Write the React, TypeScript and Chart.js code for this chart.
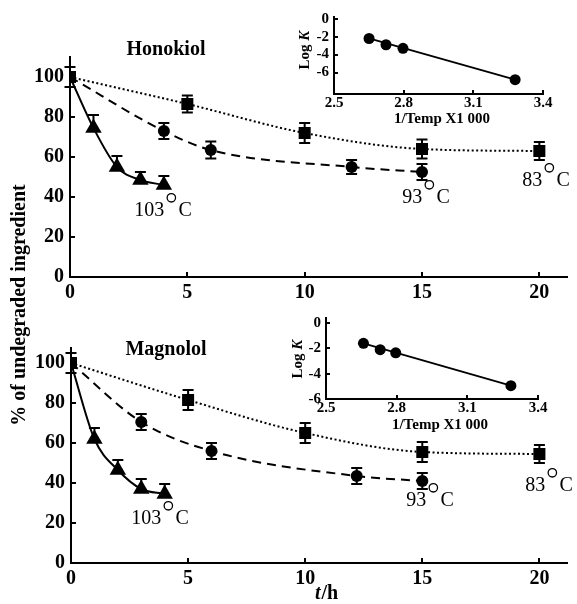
import React, { useEffect, useRef } from "react";
import { Chart, registerables } from "chart.js";

Chart.register(...registerables);

const SERIF = "'Liberation Serif', 'DejaVu Serif', serif";
const W = 577;
const H = 604;

// ---------- Honokiol (top panel) ----------
const hon83X = [0, 5, 10, 15, 20];
const hon83Y = [100, 86.5, 72, 64, 63];
const hon83E = [5, 4.3, 5, 4.7, 4.5];
const hon93X = [0, 4, 6, 12, 15];
const hon93Y = [100, 73, 63.5, 55, 52.5];
const hon93E = [0, 4, 4.2, 3.5, 4];
const hon103X = [0, 1, 2, 3, 4];
const hon103Y = [100, 74.5, 55, 48.5, 46];
const hon103E = [0, 6.5, 5.5, 4, 4.5];

// ---------- Magnolol (bottom panel) ----------
const mag83X = [0, 5, 10, 15, 20];
const mag83Y = [100, 81.5, 65, 55.5, 54.5];
const mag83E = [5, 5, 5, 5, 4.5];
const mag93X = [0, 3, 6, 12.2, 15];
const mag93Y = [100, 70.5, 56, 43.5, 41];
const mag93E = [0, 4, 4, 4, 4];
const mag103X = [0, 1, 2, 3, 4];
const mag103Y = [100, 62, 46.5, 37, 34.5];
const mag103E = [0, 5.5, 5, 5, 5];

// ---------- Arrhenius insets ----------
const honInvTemp = [2.651, 2.724, 2.797, 3.28];
const honLogK = [-2.2, -2.9, -3.3, -6.8];
const magInvTemp = [2.659, 2.73, 2.796, 3.285];
const magLogK = [-1.6, -2.1, -2.35, -4.95];

// ---------- ticks ----------
const timeTicks = [0, 5, 10, 15, 20];
const pctTicks = [0, 20, 40, 60, 80, 100];
const invTempTicks = [2.5, 2.8, 3.1, 3.4];
const logKTicks = [0, -2, -4, -6];

type Area = { left: number; right: number; top: number; bottom: number };
type Series = {
  xs: number[];
  ys: number[];
  errs: number[];
  style: string;
  radius: number;
  dash: number[];
  hideFirst?: boolean;
  upOnly?: boolean;
};

const toPts = (xs: number[], ys: number[]) => xs.map((x, i) => ({ x, y: ys[i] }));

function mainDatasets(series: Series[]) {
  return series.map((s) => ({
    data: toPts(s.xs, s.ys),
    showLine: true,
    borderColor: "#000",
    backgroundColor: "#000",
    borderWidth: 2,
    borderDash: s.dash,
    cubicInterpolationMode: "monotone",
    pointStyle: s.style,
    pointRadius: s.xs.map((_, i) => (i === 0 && s.hideFirst ? 0 : s.radius)),
    pointBorderWidth: 0,
    pointBackgroundColor: "#000",
    errs: s.errs,
    upOnly: !!s.upOnly,
  }));
}

const errorBars = {
  id: "errorBars",
  beforeDatasetsDraw(chart: any) {
    const ctx = chart.ctx;
    const xs = chart.scales.x;
    const ys = chart.scales.y;
    ctx.save();
    ctx.strokeStyle = "#000";
    ctx.lineWidth = 2;
    ctx.setLineDash([]);
    chart.data.datasets.forEach((ds: any) => {
      if (!ds.errs) return;
      ds.data.forEach((p: any, i: number) => {
        const e = ds.errs[i];
        if (!e) return;
        const px = xs.getPixelForValue(p.x);
        const top = ys.getPixelForValue(p.y + e);
        const bot = ds.upOnly ? ys.getPixelForValue(p.y) : ys.getPixelForValue(p.y - e);
        ctx.beginPath();
        ctx.moveTo(px, top);
        ctx.lineTo(px, bot);
        ctx.moveTo(px - 5.5, top);
        ctx.lineTo(px + 5.5, top);
        if (!ds.upOnly) {
          ctx.moveTo(px - 5.5, bot);
          ctx.lineTo(px + 5.5, bot);
        }
        ctx.stroke();
      });
    });
    ctx.restore();
  },
};

function inwardTicks(len: number) {
  return {
    id: "inwardTicks",
    afterDraw(chart: any) {
      const ctx = chart.ctx;
      const xs = chart.scales.x;
      const ys = chart.scales.y;
      ctx.save();
      ctx.strokeStyle = "#000";
      ctx.lineWidth = 2;
      ctx.beginPath();
      xs.ticks.forEach((t: any) => {
        const px = Math.round(xs.getPixelForValue(t.value));
        ctx.moveTo(px, ys.bottom);
        ctx.lineTo(px, ys.bottom - len);
      });
      ys.ticks.forEach((t: any) => {
        const py = Math.round(ys.getPixelForValue(t.value));
        ctx.moveTo(xs.left, py);
        ctx.lineTo(xs.left + len, py);
      });
      ctx.stroke();
      ctx.restore();
    },
  };
}

function degLabel(ctx: CanvasRenderingContext2D, num: string, cx: number, cy: number) {
  const size = 20;
  ctx.save();
  ctx.fillStyle = "#000";
  ctx.strokeStyle = "#000";
  ctx.font = `${size}px ${SERIF}`;
  ctx.textBaseline = "middle";
  ctx.textAlign = "left";
  const wNum = ctx.measureText(num).width;
  const wC = ctx.measureText("C").width;
  const gap = size * 0.72;
  const x0 = cx - (wNum + gap + wC) / 2;
  ctx.fillText(num, x0, cy);
  ctx.beginPath();
  ctx.lineWidth = 1.3;
  ctx.arc(x0 + wNum + gap * 0.5, cy - size * 0.66, size * 0.21, 0, Math.PI * 2);
  ctx.stroke();
  ctx.fillText("C", x0 + wNum + gap, cy);
  ctx.restore();
}

function textPlugin(draw: (ctx: CanvasRenderingContext2D, chart: any) => void) {
  return {
    id: "texts",
    afterDraw(chart: any) {
      const ctx = chart.ctx;
      ctx.save();
      draw(ctx, chart);
      ctx.restore();
    },
  };
}

function mainChart(
  canvas: HTMLCanvasElement,
  series: Series[],
  area: Area,
  yMax: number,
  draw: (ctx: CanvasRenderingContext2D, chart: any) => void
) {
  const yW = 60;
  const xH = 30;
  return new Chart(canvas, {
    type: "scatter",
    data: { datasets: mainDatasets(series) as any },
    options: {
      responsive: false,
      animation: false,
      events: [],
      layout: {
        padding: { left: area.left - yW, right: W - area.right, top: area.top, bottom: H - area.bottom - xH },
      },
      plugins: { legend: { display: false }, tooltip: { enabled: false } },
      scales: {
        x: {
          type: "linear",
          min: 0,
          max: 21.2,
          afterBuildTicks: (s: any) => {
            s.ticks = timeTicks.map((v) => ({ value: v }));
          },
          afterFit: (s: any) => {
            s.height = xH;
          },
          grid: { display: false, drawTicks: false },
          border: { display: true, color: "#000", width: 2 },
          ticks: { color: "#000", padding: 4, font: { family: SERIF, size: 20, weight: "bold" }, maxRotation: 0 },
        },
        y: {
          type: "linear",
          min: 0,
          max: yMax,
          afterBuildTicks: (s: any) => {
            s.ticks = pctTicks.map((v) => ({ value: v }));
          },
          afterFit: (s: any) => {
            s.width = yW;
          },
          grid: { display: false, drawTicks: false },
          border: { display: true, color: "#000", width: 2 },
          ticks: { color: "#000", padding: 6, font: { family: SERIF, size: 20, weight: "bold" } },
        },
      },
    } as any,
    plugins: [errorBars, inwardTicks(5), textPlugin(draw)],
  });
}

function insetChart(
  canvas: HTMLCanvasElement,
  xs: number[],
  ys: number[],
  area: Area,
  yMin: number,
  yMax: number,
  draw: (ctx: CanvasRenderingContext2D, chart: any) => void
) {
  const yW = 30;
  const xH = 22;
  const n = xs.length - 1;
  return new Chart(canvas, {
    type: "scatter",
    data: {
      datasets: [
        {
          data: toPts(xs, ys),
          showLine: false,
          pointStyle: "circle",
          pointRadius: 5.5,
          pointBorderWidth: 0,
          pointBackgroundColor: "#000",
          backgroundColor: "#000",
        },
        {
          data: [
            { x: xs[0], y: ys[0] },
            { x: xs[n], y: ys[n] },
          ],
          showLine: true,
          borderColor: "#000",
          borderWidth: 1.8,
          pointRadius: 0,
        },
      ] as any,
    },
    options: {
      responsive: false,
      animation: false,
      events: [],
      layout: {
        padding: { left: area.left - yW, right: W - area.right, top: area.top, bottom: H - area.bottom - xH },
      },
      plugins: { legend: { display: false }, tooltip: { enabled: false } },
      scales: {
        x: {
          type: "linear",
          min: 2.5,
          max: 3.4,
          afterBuildTicks: (s: any) => {
            s.ticks = invTempTicks.map((v) => ({ value: v }));
          },
          afterFit: (s: any) => {
            s.height = xH;
          },
          grid: { display: false, drawTicks: false },
          border: { display: true, color: "#000", width: 2 },
          ticks: {
            color: "#000",
            padding: 0,
            maxRotation: 0,
            font: { family: SERIF, size: 15, weight: "bold" },
            callback: (v: any) => Number(v).toFixed(1),
          },
        },
        y: {
          type: "linear",
          min: yMin,
          max: yMax,
          afterBuildTicks: (s: any) => {
            s.ticks = logKTicks.filter((v) => v >= yMin).map((v) => ({ value: v }));
          },
          afterFit: (s: any) => {
            s.width = yW;
          },
          grid: { display: false, drawTicks: false },
          border: { display: true, color: "#000", width: 2 },
          ticks: { color: "#000", padding: 5, font: { family: SERIF, size: 15, weight: "bold" } },
        },
      },
    } as any,
    plugins: [inwardTicks(4), textPlugin(draw)],
  });
}

function drawLogK(ctx: CanvasRenderingContext2D, cx: number, cy: number) {
  ctx.save();
  ctx.translate(cx, cy);
  ctx.rotate(-Math.PI / 2);
  ctx.fillStyle = "#000";
  ctx.textBaseline = "middle";
  ctx.textAlign = "left";
  ctx.font = `bold 15px ${SERIF}`;
  const a = "Log ";
  const wa = ctx.measureText(a).width;
  ctx.font = `italic bold 15px ${SERIF}`;
  const wb = ctx.measureText("K").width;
  const x0 = -(wa + wb) / 2;
  ctx.font = `bold 15px ${SERIF}`;
  ctx.fillText(a, x0, 0);
  ctx.font = `italic bold 15px ${SERIF}`;
  ctx.fillText("K", x0 + wa, 0);
  ctx.restore();
}

function centerText(ctx: CanvasRenderingContext2D, text: string, x: number, y: number, font: string) {
  ctx.font = font;
  ctx.fillStyle = "#000";
  ctx.textAlign = "center";
  ctx.textBaseline = "middle";
  ctx.fillText(text, x, y);
}

export default function App() {
  const c1 = useRef<HTMLCanvasElement>(null);
  const c2 = useRef<HTMLCanvasElement>(null);
  const c3 = useRef<HTMLCanvasElement>(null);
  const c4 = useRef<HTMLCanvasElement>(null);

  useEffect(() => {
    const charts: Chart[] = [];
    const dotted = [2, 2.5];
    const dashed = [9, 6];

    charts.push(
      mainChart(
        c1.current!,
        [
          { xs: hon103X, ys: hon103Y, errs: hon103E, style: "triangle", radius: 9.5, dash: [], hideFirst: true, upOnly: true },
          { xs: hon93X, ys: hon93Y, errs: hon93E, style: "circle", radius: 6, dash: dashed, hideFirst: true },
          { xs: hon83X, ys: hon83Y, errs: hon83E, style: "rect", radius: 8.5, dash: dotted },
        ],
        { left: 70, right: 577, top: 57, bottom: 277 },
        110,
        (ctx) => {
          centerText(ctx, "Honokiol", 166, 50, `bold 20px ${SERIF}`);
          degLabel(ctx, "103", 163, 211);
          degLabel(ctx, "93", 426, 198);
          degLabel(ctx, "83", 546, 181);
          // shared y-axis title
          ctx.save();
          ctx.translate(20, 305);
          ctx.rotate(-Math.PI / 2);
          centerText(ctx, "% of undegraded ingredient", 0, 0, `bold 20px ${SERIF}`);
          ctx.restore();
        }
      )
    );

    charts.push(
      mainChart(
        c2.current!,
        [
          { xs: mag103X, ys: mag103Y, errs: mag103E, style: "triangle", radius: 9.5, dash: [], hideFirst: true, upOnly: true },
          { xs: mag93X, ys: mag93Y, errs: mag93E, style: "circle", radius: 6, dash: dashed, hideFirst: true },
          { xs: mag83X, ys: mag83Y, errs: mag83E, style: "rect", radius: 8.5, dash: dotted },
        ],
        { left: 71, right: 577, top: 348, bottom: 563 },
        107.5,
        (ctx) => {
          centerText(ctx, "Magnolol", 166, 350, `bold 20px ${SERIF}`);
          degLabel(ctx, "103", 160, 519);
          degLabel(ctx, "93", 430, 501);
          degLabel(ctx, "83", 549, 486);
          // x-axis title: t/h
          ctx.save();
          ctx.fillStyle = "#000";
          ctx.textBaseline = "middle";
          ctx.textAlign = "left";
          ctx.font = `italic bold 20px ${SERIF}`;
          const wt = ctx.measureText("t").width;
          ctx.font = `bold 20px ${SERIF}`;
          const wh = ctx.measureText("/h").width;
          const x0 = 326 - (wt + wh) / 2;
          ctx.font = `italic bold 20px ${SERIF}`;
          ctx.fillText("t", x0, 594);
          ctx.font = `bold 20px ${SERIF}`;
          ctx.fillText("/h", x0 + wt + 1, 594);
          ctx.restore();
        }
      )
    );

    charts.push(
      insetChart(c3.current!, honInvTemp, honLogK, { left: 334, right: 543, top: 17, bottom: 94 }, -8.4, 0.2, (ctx) => {
        drawLogK(ctx, 305, 50);
        centerText(ctx, "1/Temp X1 000", 442, 119, `bold 15px ${SERIF}`);
      })
    );

    charts.push(
      insetChart(c4.current!, magInvTemp, magLogK, { left: 326, right: 538, top: 318, bottom: 399 }, -6, 0.4, (ctx) => {
        drawLogK(ctx, 298, 359);
        centerText(ctx, "1/Temp X1 000", 440, 425, `bold 15px ${SERIF}`);
      })
    );

    return () => charts.forEach((c) => c.destroy());
  }, []);

  const cs: React.CSSProperties = { position: "absolute", left: 0, top: 0 };
  return (
    <div style={{ position: "absolute", left: 0, top: 0, width: W, height: H, background: "#fff" }}>
      <canvas ref={c1} width={W} height={H} style={cs} />
      <canvas ref={c2} width={W} height={H} style={cs} />
      <canvas ref={c3} width={W} height={H} style={cs} />
      <canvas ref={c4} width={W} height={H} style={cs} />
    </div>
  );
}
